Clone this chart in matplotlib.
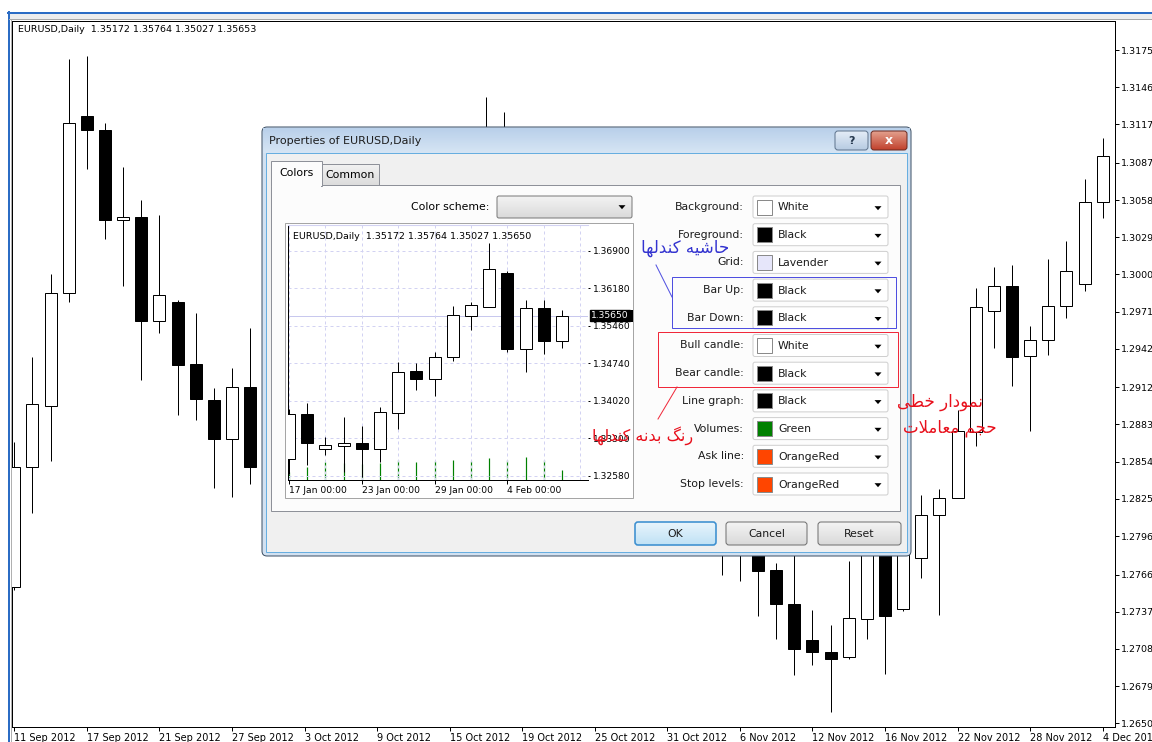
#!/usr/bin/env python3
"""
MT4 screenshot rebuild: EURUSD daily candles with the chart 'Properties'
colour dialog open on top, plus Persian notes marking the candle settings.
"""
import numpy as np
import matplotlib
matplotlib.use("Agg")
import matplotlib.pyplot as plt
from matplotlib.colors import LinearSegmentedColormap
from matplotlib.patches import Rectangle, FancyBboxPatch, Polygon

plt.rcParams["font.family"] = ["DejaVu Sans"]

W, H = 1152, 742
PX = 0.72            # one pixel in points at dpi=100

# ── main chart: EURUSD daily, 11 Sep – 4 Dec 2012 (bars 14..38 sit behind the dialog) ──
main_open = [1.27563, 1.28499, 1.28974, 1.29855, 1.31235, 1.31126, 1.30425, 1.30448, 1.29637, 1.29785,
             1.29302, 1.29021, 1.28717, 1.29122, 1.2850, 1.2895, 1.2890, 1.2903, 1.3012, 1.3035,
             1.2975, 1.2880, 1.2880, 1.2945, 1.2955, 1.2950, 1.3055, 1.3105, 1.3070, 1.3025,
             1.3060, 1.2975, 1.2975, 1.2950, 1.2940, 1.2905, 1.2975, 1.2960, 1.2940, 1.2835,
             1.2800, 1.2815, 1.27695, 1.27430, 1.27150, 1.27056, 1.27017, 1.27313, 1.2790, 1.27391,
             1.27789, 1.28124, 1.28257, 1.28771, 1.29715, 1.29910, 1.29364, 1.29489, 1.29754, 1.29925,
             1.30565]
main_high = [1.28693, 1.29356, 1.30003, 1.31680, 1.31703, 1.31181, 1.30838, 1.30580, 1.30464, 1.29800,
             1.29699, 1.29115, 1.29270, 1.29582, 1.2938, 1.2940, 1.2935, 1.3025, 1.3060, 1.3040,
             1.3000, 1.2910, 1.2955, 1.2965, 1.2970, 1.3065, 1.31384, 1.31267, 1.3090, 1.3085,
             1.3070, 1.3000, 1.3015, 1.2965, 1.2955, 1.2990, 1.3000, 1.2965, 1.2960, 1.2845,
             1.2875, 1.2880, 1.27750, 1.2785, 1.27383, 1.27267, 1.27766, 1.2810, 1.2805, 1.2820,
             1.28280, 1.28327, 1.28943, 1.29894, 1.30058, 1.30074, 1.29598, 1.30120, 1.30261, 1.30744,
             1.31064]
main_low = [1.27540, 1.28140, 1.28545, 1.29785, 1.30822, 1.30276, 1.29910, 1.29177, 1.29543, 1.28904,
            1.28865, 1.28335, 1.28265, 1.28366, 1.2840, 1.2860, 1.2872, 1.2880, 1.2990, 1.2960,
            1.2875, 1.2850, 1.2870, 1.2905, 1.2910, 1.2945, 1.3045, 1.3060, 1.3010, 1.3000,
            1.2960, 1.2935, 1.2940, 1.2885, 1.2885, 1.2895, 1.2935, 1.2905, 1.2820, 1.27656,
            1.27610, 1.27337, 1.27157, 1.26877, 1.26955, 1.26588, 1.27001, 1.27157, 1.26884, 1.27376,
            1.27633, 1.27345, 1.28257, 1.28662, 1.29426, 1.29130, 1.28779, 1.29372, 1.29660, 1.29871,
            1.30440]
main_close = [1.28499, 1.28990, 1.29855, 1.31181, 1.31126, 1.30425, 1.30448, 1.29637, 1.29840, 1.29294,
              1.29029, 1.28717, 1.29122, 1.28499, 1.2895, 1.2890, 1.2903, 1.3012, 1.3035, 1.2975,
              1.2880, 1.2880, 1.2945, 1.2955, 1.2950, 1.3055, 1.3105, 1.3070, 1.3025, 1.3060,
              1.2975, 1.2975, 1.2950, 1.2940, 1.2905, 1.2975, 1.2960, 1.2940, 1.2835, 1.2800,
              1.2815, 1.27688, 1.27430, 1.27079, 1.27056, 1.27001, 1.27321, 1.2790, 1.27337, 1.2805,
              1.28124, 1.28257, 1.28779, 1.29746, 1.29910, 1.29356, 1.29489, 1.29754, 1.30027, 1.30565,
              1.30924]
main_date_labels = ["11 Sep 2012", "17 Sep 2012", "21 Sep 2012", "27 Sep 2012", "3 Oct 2012",
                    "9 Oct 2012", "15 Oct 2012", "19 Oct 2012", "25 Oct 2012", "31 Oct 2012",
                    "6 Nov 2012", "12 Nov 2012", "16 Nov 2012", "22 Nov 2012", "28 Nov 2012",
                    "4 Dec 2012"]
main_price_labels = ["1.3175", "1.3146", "1.3117", "1.3087", "1.3058", "1.3029", "1.3000",
                     "1.2971", "1.2942", "1.2912", "1.2883", "1.2854", "1.2825", "1.2796",
                     "1.2766", "1.2737", "1.2708", "1.2679", "1.2650"]
main_header = "EURUSD,Daily  1.35172 1.35764 1.35027 1.35653"

# ── preview chart inside the dialog ──
prev_open = [1.32895, 1.33759, 1.33087, 1.33156, 1.33214, 1.33087, 1.33790, 1.34596,
             1.34437, 1.34853, 1.35652, 1.35825, 1.36478, 1.35007, 1.35800, 1.35172]
prev_high = [1.33861, 1.33982, 1.33317, 1.33713, 1.33534, 1.33905, 1.34769, 1.34750,
             1.34949, 1.35844, 1.35909, 1.37042, 1.36516, 1.35953, 1.35953, 1.35764]
prev_low = [1.32620, 1.32785, 1.32977, 1.32657, 1.32550, 1.32849, 1.33477, 1.34225,
            1.34116, 1.34788, 1.35377, 1.35813, 1.34961, 1.34565, 1.34917, 1.35027]
prev_close = [1.33759, 1.33202, 1.33164, 1.33214, 1.33087, 1.33797, 1.34577, 1.34437,
              1.34865, 1.35665, 1.35863, 1.36543, 1.35007, 1.35800, 1.35161, 1.35650]
prev_volume = [36, 57, 76, 73, 69, 72, 86, 76, 82, 86, 82, 96, 86, 100, 86, 43]
prev_date_labels = ["17 Jan 00:00", "23 Jan 00:00", "29 Jan 00:00", "4 Feb 00:00"]
prev_price_labels = ["1.36900", "1.36180", "1.35460", "1.34740", "1.34020", "1.33300", "1.32580"]
prev_last = 1.35650
prev_header = "EURUSD,Daily  1.35172 1.35764 1.35027 1.35650"

# ── dialog rows ──
prop_names = ["Background:", "Foreground:", "Grid:", "Bar Up:", "Bar Down:", "Bull candle:",
              "Bear candle:", "Line graph:", "Volumes:", "Ask line:", "Stop levels:"]
prop_values = ["White", "Black", "Lavender", "Black", "Black", "White",
               "Black", "Black", "Green", "OrangeRed", "OrangeRed"]
prop_swatches = ["#ffffff", "#000000", "#e6e6fa", "#000000", "#000000", "#ffffff",
                 "#000000", "#000000", "#008000", "#ff4500", "#ff4500"]
buttons = ["OK", "Cancel", "Reset"]

# ── Persian notes ──
note_border = "حاشیه کندلها"
note_body = "رنگ بدنه کندلها"
note_line = "نمودار خطی"
note_volume = "حجم معاملات"


# matplotlib has no Arabic shaping: pick presentation forms by hand, then reverse
FA_FORMS = {  # isolated, final, initial, medial
    "ا": ("\uFE8D", "\uFE8E", None, None),
    "ب": ("\uFE8F", "\uFE90", "\uFE91", "\uFE92"),
    "ت": ("\uFE95", "\uFE96", "\uFE97", "\uFE98"),
    "ج": ("\uFE9D", "\uFE9E", "\uFE9F", "\uFEA0"),
    "ح": ("\uFEA1", "\uFEA2", "\uFEA3", "\uFEA4"),
    "خ": ("\uFEA5", "\uFEA6", "\uFEA7", "\uFEA8"),
    "د": ("\uFEA9", "\uFEAA", None, None),
    "ر": ("\uFEAD", "\uFEAE", None, None),
    "ش": ("\uFEB5", "\uFEB6", "\uFEB7", "\uFEB8"),
    "ط": ("\uFEC1", "\uFEC2", "\uFEC3", "\uFEC4"),
    "ع": ("\uFEC9", "\uFECA", "\uFECB", "\uFECC"),
    "ل": ("\uFEDD", "\uFEDE", "\uFEDF", "\uFEE0"),
    "م": ("\uFEE1", "\uFEE2", "\uFEE3", "\uFEE4"),
    "ن": ("\uFEE5", "\uFEE6", "\uFEE7", "\uFEE8"),
    "ه": ("\uFEE9", "\uFEEA", "\uFEEB", "\uFEEC"),
    "و": ("\uFEED", "\uFEEE", None, None),
    "ی": ("\uFBFC", "\uFBFD", "\uFBFE", "\uFBFF"),
    "ک": ("\uFB8E", "\uFB8F", "\uFB90", "\uFB91"),
    "گ": ("\uFB92", "\uFB93", "\uFB94", "\uFB95"),
}
FA_FORMS["ي"] = FA_FORMS["ی"]
FA_FORMS["ك"] = FA_FORMS["ک"]


def shape_fa(text):
    ch = list(text)
    out = []
    i = 0
    while i < len(ch):
        c = ch[i]
        if c not in FA_FORMS:
            out.append(c)
            i += 1
            continue
        prev = ch[i - 1] if i > 0 else None
        joins_prev = prev in FA_FORMS and FA_FORMS[prev][2] is not None
        if c == "ل" and i + 1 < len(ch) and ch[i + 1] == "ا":
            out.append("\uFEFC" if joins_prev else "\uFEFB")
            i += 2
            continue
        nxt = ch[i + 1] if i + 1 < len(ch) else None
        iso, fin, ini, med = FA_FORMS[c]
        joins_next = ini is not None and nxt in FA_FORMS
        if joins_prev and joins_next:
            out.append(med)
        elif joins_prev:
            out.append(fin)
        elif joins_next:
            out.append(ini)
        else:
            out.append(iso)
        i += 1
    return "".join(reversed(out))


def px_axes(fig, x0, y0, x1, y1, z):
    a = fig.add_axes([x0 / W, 1 - y1 / H, (x1 - x0) / W, (y1 - y0) / H])
    a.set_zorder(z)
    return a


def overlay(fig, z):
    a = fig.add_axes([0, 0, 1, 1])
    a.set_xlim(0, W)
    a.set_ylim(H, 0)
    a.axis("off")
    a.set_zorder(z)
    return a


def box(a, x0, y0, x1, y1, fc, ec, lw=1, r=0, z=1):
    if r:
        p = FancyBboxPatch((x0, y0), x1 - x0, y1 - y0, boxstyle=f"round,pad=0,rounding_size={r}",
                           fc=fc, ec=ec, lw=lw * PX, zorder=z)
    else:
        p = Rectangle((x0, y0), x1 - x0, y1 - y0, fc=fc, ec=ec, lw=lw * PX, zorder=z)
    a.add_patch(p)
    return p


def grad(a, x0, y0, x1, y1, c0, c1, z=1, clip=None):
    cmap = LinearSegmentedColormap.from_list("g", [c0, c1])
    im = a.imshow(np.linspace(0, 1, 64).reshape(-1, 1), cmap=cmap, extent=(x0, x1, y1, y0),
                  aspect="auto", interpolation="bilinear", zorder=z)
    if clip is not None:
        im.set_clip_path(clip)


def arrow(a, x, y, z=3):
    a.add_patch(Polygon([(x - 3.5, y - 1.8), (x + 3.5, y - 1.8), (x, y + 2.2)],
                        closed=True, fc="black", ec="none", zorder=z))


def button(a, x0, y0, x1, y1, label, c0, c1, ec, lw=1):
    p = box(a, x0, y0, x1, y1, "none", ec, lw=lw, r=3, z=3)
    grad(a, x0, y0, x1, y1, c0, c1, z=2, clip=p)
    a.text((x0 + x1) / 2, (y0 + y1) / 2 + 0.5, label, ha="center", va="center",
           fontsize=7.8, color="#1b1b1b", zorder=4)


def candles(ax, o, h, l, c, width, lw=1):
    o, h, l, c = map(np.asarray, (o, h, l, c))
    x = np.arange(len(o))
    ax.vlines(x, l, h, colors="black", linewidth=lw * PX, zorder=2)
    face = ["white" if cc >= oo else "black" for oo, cc in zip(o, c)]
    ax.bar(x, np.abs(c - o), width=width, bottom=np.minimum(o, c), color=face,
           edgecolor="black", linewidth=lw * PX, zorder=3)


def main():
    fig = plt.figure(figsize=(W / 100, H / 100), dpi=100)
    fig.patch.set_facecolor("white")

    # ── main chart ─────────────────────────────────────────────────────────
    mx0, my0, mx1, my1 = 12, 21, 1115, 727
    bar0, step = 14.3, 18.14                        # px of bar 0, px per bar
    ax = px_axes(fig, mx0, my0, mx1, my1, 1)
    candles(ax, main_open, main_high, main_low, main_close, width=0.66)
    ax.set_xlim((mx0 - bar0) / step, (mx1 - bar0) / step)
    lo_p, hi_p = float(main_price_labels[-1]), float(main_price_labels[0])
    s = (hi_p - lo_p) / (723.3 - 50.0)              # price per px
    ax.set_ylim(lo_p - (my1 - 723.3) * s, lo_p + (723.3 - my0) * s)
    ax.set_yticks([float(v) for v in main_price_labels])
    ax.set_yticklabels(main_price_labels)
    ax.set_xticks(range(0, len(main_open), 4))
    ax.set_xticklabels(main_date_labels, ha="left")
    ax.yaxis.tick_right()
    ax.tick_params(axis="y", length=4 * PX, width=PX, pad=2 * PX, labelsize=6.8)
    ax.tick_params(axis="x", length=4 * PX, width=PX, pad=1.8 * PX, labelsize=7.0)
    for sp in ax.spines.values():
        sp.set_linewidth(PX)

    # ── window chrome + dialog ─────────────────────────────────────────────
    dlg = overlay(fig, 2)
    dlg.add_patch(Rectangle((9, 14), W - 9, 5, fc="#ededed", ec="none"))
    dlg.plot([8, W], [13, 13], color="#2b6cc4", lw=2 * PX)
    dlg.plot([9, 9], [12, H], color="#2b6cc4", lw=2 * PX)
    dlg.plot([10.5, 10.5], [19, H], color="#b0b0b0", lw=PX)
    dlg.plot([9, W], [18.5, 18.5], color="#a8a8a8", lw=PX)
    dlg.text(18, 30, main_header, fontsize=6.8, va="center", ha="left")

    box(dlg, 262, 127, 911, 556, "#d2e1f1", "#3d5166", r=5)
    grad(dlg, 263, 128, 910, 153, "#b9d0ea", "#d6e5f4", z=1.5)
    box(dlg, 266, 153, 907, 552, "#f0f0f0", "#67aee0", z=2)
    dlg.text(269, 140.5, "Properties of EURUSD,Daily", fontsize=8, va="center", color="#1e1e1e", zorder=3)
    help_btn = box(dlg, 835, 131, 868, 150, "none", "#60758e", r=3, z=3)
    grad(dlg, 835, 131, 868, 150, "#e4edf7", "#b7cbe2", z=2.5, clip=help_btn)
    dlg.text(851.5, 140.5, "?", fontsize=8, fontweight="bold", ha="center", va="center", color="#26384e", zorder=4)
    close_btn = box(dlg, 871, 131, 907, 150, "none", "#6b2b22", r=3, z=3)
    grad(dlg, 871, 131, 907, 150, "#e3a08e", "#c1412c", z=2.5, clip=close_btn)
    dlg.text(889, 140.5, "x", fontsize=9, fontweight="bold", ha="center", va="center", color="white", zorder=4)

    # tabs and tab page
    box(dlg, 271, 185, 900, 511, "#fcfcfc", "#8e9199", z=2.2)
    tab2 = box(dlg, 322, 164, 379, 185, "none", "#8e9199", z=2.4)
    grad(dlg, 322, 164, 379, 185, "#f2f2f2", "#dcdcdc", z=2.3, clip=tab2)
    box(dlg, 271, 161, 322, 186, "#fcfcfc", "#8e9199", z=2.5)
    dlg.add_patch(Rectangle((272, 184), 49, 3, fc="#fcfcfc", ec="none", zorder=2.6))
    dlg.text(296.5, 173, "Colors", fontsize=7.8, ha="center", va="center", zorder=3)
    dlg.text(350.5, 175, "Common", fontsize=7.8, ha="center", va="center", zorder=3)

    # colour scheme combo
    dlg.text(489, 207, "Color scheme:", fontsize=7.8, ha="right", va="center", zorder=3)
    combo = box(dlg, 497, 196, 632, 218, "none", "#7a7a7a", r=2, z=3)
    grad(dlg, 497, 196, 632, 218, "#f3f3f3", "#dadada", z=2.7, clip=combo)
    arrow(dlg, 622, 207)

    # frame of the preview chart
    box(dlg, 285, 223, 633, 498, "white", "#a5a5a5", z=2.7)

    # property rows
    row_y0, row_dy = 207.0, 27.7
    for j, (name, val, sw) in enumerate(zip(prop_names, prop_values, prop_swatches)):
        y = row_y0 + j * row_dy
        dlg.text(744, y, name, fontsize=7.8, ha="right", va="center", color="#1b1b1b", zorder=3)
        box(dlg, 753, y - 11, 888, y + 11, "white", "#cfcfcf", r=2, z=2.8)
        box(dlg, 757, y - 7.5, 772, y + 7.5, sw, "#8a8a8a", z=3)
        dlg.text(778, y + 0.5, val, fontsize=7.8, ha="left", va="center", color="#1b1b1b", zorder=3)
        arrow(dlg, 878, y + 1)

    # buttons
    bx = [(635, 716), (726, 807), (818, 901)]
    for (x0, x1), lab in zip(bx, buttons):
        if lab == "OK":
            button(dlg, x0, 522, x1, 545, lab, "#e9f5fc", "#bfe1f5", "#3c8fd0", lw=1.6)
        else:
            button(dlg, x0, 522, x1, 545, lab, "#f4f4f4", "#d9d9d9", "#707070")

    # ── preview chart ──────────────────────────────────────────────────────
    px0, py0, px1, py1 = 288, 225, 588, 480
    pbar0, pstep = 289.0, 18.2
    xlim = ((px0 - pbar0) / pstep, (px1 - pbar0) / pstep)
    p_hi, p_lo = float(prev_price_labels[0]), float(prev_price_labels[-1])
    ps = (p_hi - p_lo) / (475.7 - 250.7)
    ylim = (p_lo - (py1 - 475.7) * ps, p_lo + (475.7 - py0) * ps)

    axv = px_axes(fig, px0, py0, px1, py1, 3)
    kx = np.arange(len(prev_volume))
    axv.vlines(kx, 0, prev_volume, colors="#008000", linewidth=1.2 * PX)
    axv.set_xlim(*xlim)
    axv.set_ylim(0, 1095)
    axv.axis("off")

    axp = px_axes(fig, px0, py0, px1, py1, 4)
    axp.patch.set_visible(False)
    candles(axp, prev_open, prev_high, prev_low, prev_close, width=0.66)
    axp.axhline(prev_last, color="#c8c8ee", lw=PX, zorder=1)
    axp.set_xlim(*xlim)
    axp.set_ylim(*ylim)
    axp.set_yticks([float(v) for v in prev_price_labels])
    axp.set_yticklabels(prev_price_labels)
    axp.set_xticks(range(0, 4 * len(prev_date_labels), 4))
    axp.set_xticklabels(prev_date_labels, ha="left")
    axp.set_xticks(range(2, len(prev_open) + 1, 2), minor=True)
    axp.yaxis.tick_right()
    axp.tick_params(axis="y", length=2.5 * PX, width=PX, pad=2 * PX, labelsize=6.6, right=True)
    axp.tick_params(axis="x", which="major", length=4 * PX, width=PX, pad=2 * PX, labelsize=6.6)
    axp.tick_params(axis="x", which="minor", length=0)
    axp.grid(True, which="both", color="#d2d2f2", ls=(0, (3, 3)), lw=PX, zorder=0)
    axp.spines["top"].set_color("#d2d2f2")
    axp.spines["right"].set_visible(False)
    for k in ("left", "bottom"):
        axp.spines[k].set_linewidth(PX)
    axp.annotate(f"{prev_last:.5f}", xy=(1, prev_last), xycoords=("axes fraction", "data"),
                 xytext=(2.2, 0), textcoords="offset points", ha="left", va="center",
                 fontsize=6.6, color="white", zorder=10, annotation_clip=False,
                 bbox=dict(boxstyle="square,pad=0.12", fc="black", ec="black"))

    # ── annotations on top ─────────────────────────────────────────────────
    ann = overlay(fig, 6)
    ann.text(293, 236.5, prev_header, fontsize=6.8, ha="left", va="center")
    ann.plot([632, 632], [311, 321], color="black", lw=2 * PX)
    ann.add_patch(Rectangle((672, 277), 224, 51, fc="none", ec="#4f4fe0", lw=PX))
    ann.add_patch(Rectangle((658, 332), 240, 55, fc="none", ec="#f0283a", lw=PX))
    ann.plot([656, 672], [265, 297], color="#4f4fe0", lw=PX)
    ann.plot([677, 658], [387, 419], color="#f0283a", lw=PX)
    fa_font = ["DejaVu Sans"]
    ann.text(685, 248, shape_fa(note_border), fontsize=12, color="#3434d0",
             ha="center", va="center", family=fa_font)
    ann.text(643, 436, shape_fa(note_body), fontsize=11.5, color="#e8101c",
             ha="center", va="center", family=fa_font)
    ann.text(940, 402, shape_fa(note_line), fontsize=12, color="#e8101c",
             ha="center", va="center", family=fa_font)
    ann.text(950, 428, shape_fa(note_volume), fontsize=12, color="#e8101c",
             ha="center", va="center", family=fa_font)

    fig.savefig("out.png", dpi=100, facecolor=fig.get_facecolor())
    plt.close(fig)


if __name__ == "__main__":
    main()
